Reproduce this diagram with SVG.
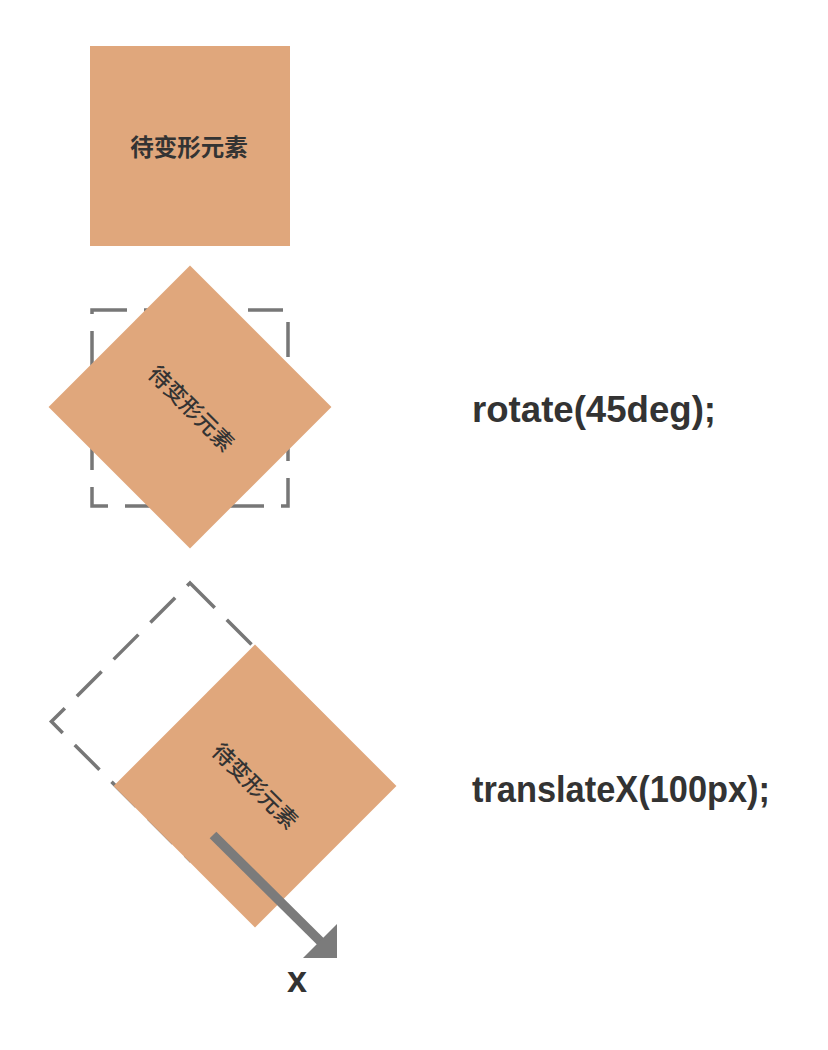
<svg xmlns="http://www.w3.org/2000/svg" width="828" height="1050" viewBox="0 0 828 1050">
<style>
.box{fill:#E0A77C}
.dash{fill:none;stroke:#777;stroke-width:3.5;stroke-dasharray:35 17}
.cn{font-family:"Noto Sans CJK SC","Noto Sans",sans-serif;fill:#333;text-anchor:middle}
.code{font-family:"Liberation Sans","Noto Sans",sans-serif;font-weight:bold;fill:#333;font-size:36px}
</style>
<rect width="828" height="1050" fill="#fff"/>
<g id="original">
  <rect class="box" x="90" y="46" width="200" height="200"/>
  <text class="cn" x="189" y="156" font-size="23.5" font-weight="bold">待变形元素</text>
</g>
<g id="rotated">
  <path class="dash" d="M92,310 H288 V506 H92 Z"/>
  <g transform="translate(190,407) rotate(45)">
    <rect class="box" x="-100" y="-100" width="200" height="200"/>
    <text class="cn" x="2" y="8" font-size="22" font-weight="500">待变形元素</text>
  </g>
</g>
<g id="rotate-label">
  <text class="code" x="472" y="422" textLength="244" lengthAdjust="spacingAndGlyphs">rotate(45deg);</text>
</g>
<g id="translated">
  <path class="dash" transform="translate(190,721.6) rotate(45)" d="M-98,-98 H98 V98 H-98 Z"/>
  <g transform="translate(255,786) rotate(45)">
    <rect class="box" x="-100" y="-100" width="200" height="200"/>
    <text class="cn" x="0" y="8" font-size="22" font-weight="500">待变形元素</text>
  </g>
</g>
<g id="translate-label">
  <text class="code" x="472" y="802" textLength="298" lengthAdjust="spacingAndGlyphs">translateX(100px);</text>
</g>
<g id="connectors">
  <line x1="213" y1="835" x2="321" y2="942" stroke="#7b7b7b" stroke-width="9.5"/>
  <polygon points="337,958 303,958 337,924" fill="#7b7b7b"/>
</g>
<g id="axis-label">
  <text class="code" x="297" y="992" text-anchor="middle" font-size="34">x</text>
</g>
</svg>
